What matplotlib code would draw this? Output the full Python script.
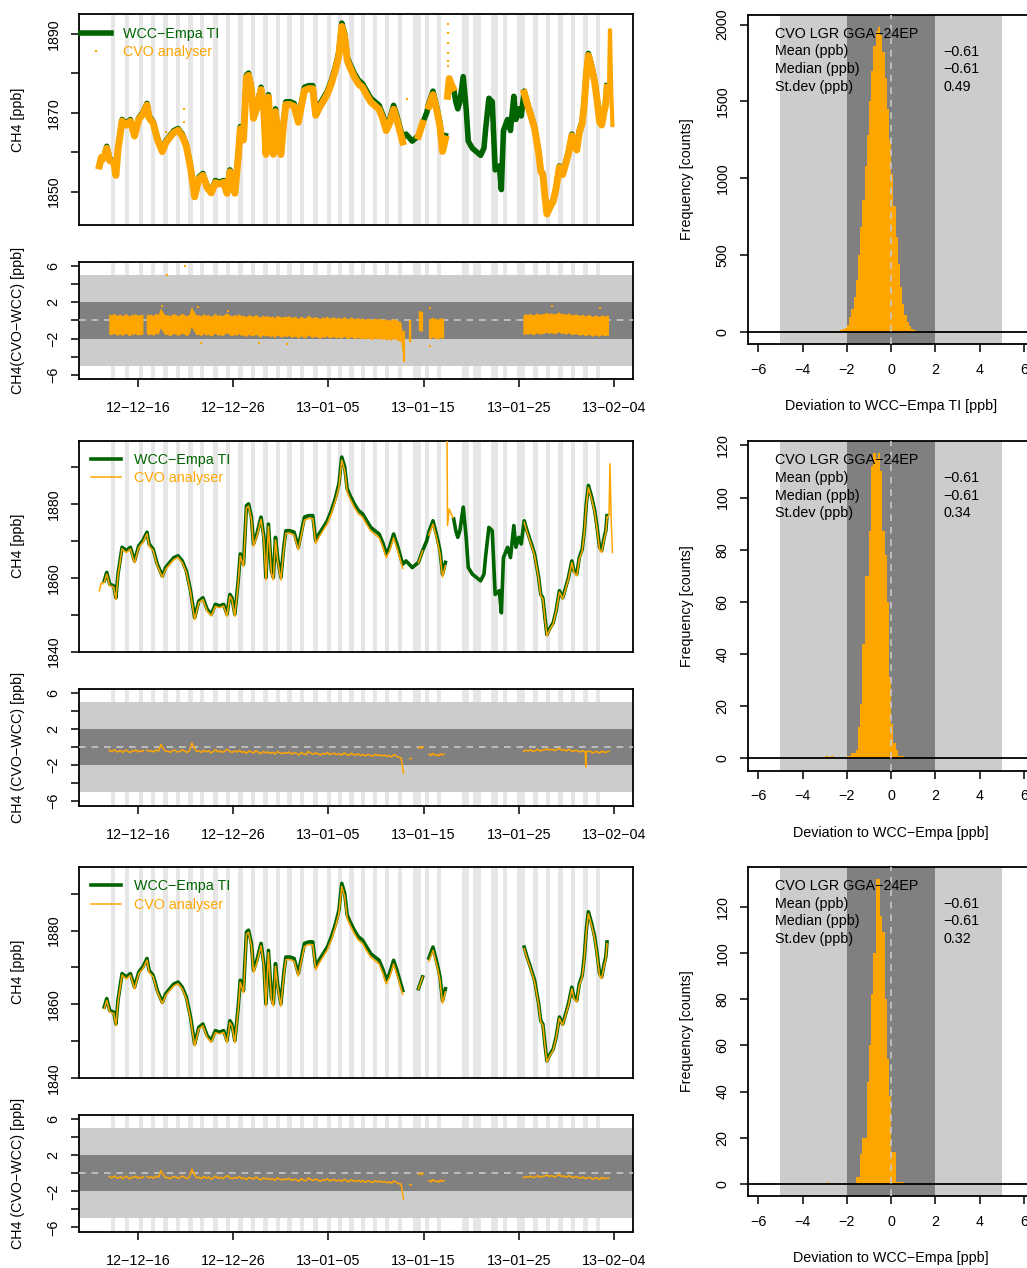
import numpy as np
import matplotlib
matplotlib.use('Agg')
from matplotlib import pyplot as plt
from matplotlib.lines import Line2D

plt.rcParams['font.family'] = ['Liberation Sans', 'DejaVu Sans']
plt.rcParams['font.size'] = 10.3

nan = np.nan
MINUS = '\u2212'
ORANGE = '#FFA500'
GREEN = '#006400'

# ---------------- data (time in days since 2012-12-16) ----------------
# WCC-Empa travelling instrument, hourly CH4 [ppb]
t_wcc = [
    -3.57, -3.31, -3.00, -2.57, -2.35, -2.13, -1.70, -1.26, -0.82, -0.39,
    0.05, 0.48, 0.92, 1.14, 1.57, 2.01, 2.53, 2.88, 3.32, 3.75,
    4.19, 4.63, 5.06, 5.50, 5.93, 6.37, 6.80, 7.24, 7.68, 8.11,
    8.55, 8.98, 9.33, 9.64, 9.85, 10.16, 10.51, 10.73, 11.07, 11.38,
    11.60, 11.90, 12.12, 12.47, 12.91, 13.21, 13.43, 13.69, 14.00, 14.21,
    14.43, 14.65, 15.00, 15.30, 15.52, 15.96, 16.39, 16.83, 17.18, 17.48,
    17.92, 18.35, 18.66, 19.01, 19.44, 19.88, 20.31, 20.75, 21.10, 21.40,
    21.71, 21.97, 22.27, 22.71, 23.15, 23.58, 24.02, 24.45, 24.89, 25.33,
    25.76, 26.07, 26.42, 26.85, 27.20, 27.50, 27.81, 28.16, 28.81, 29.46,
    29.90, 30.34, 30.56, 30.99, 31.43, 31.73, 31.99, 32.30, 32.75, 33.17,
    33.39, 33.60, 33.82, 34.17, 34.48, 34.70, 35.13, 35.57, 36.00, 36.35,
    36.53, 36.87, 37.22, 37.53, 37.96, 38.18, 38.40, 38.83, 39.14, 39.49,
    39.71, 40.01, 40.27, 40.58, 40.88, 41.23, 41.67, 42.10, 42.32, 42.54,
    42.76, 42.97, 43.32, 43.63, 43.93, 44.28, 44.63, 44.94, 45.24, 45.59,
    45.81, 46.11, 46.37, 46.68, 46.90, 47.11, 47.33, 47.68, 47.99, 48.20,
    48.51, 48.73, 48.99, 49.16, 49.29]
wcc = [
    1859.2, 1861.5, 1858.3, 1857.8, 1854.6, 1861.0, 1868.3, 1867.4, 1868.3, 1864.6,
    1868.7, 1870.1, 1872.4, 1869.2, 1867.8, 1863.7, 1860.5, 1862.8, 1864.2, 1865.5,
    1866.0, 1864.6, 1861.9, 1856.5, 1849.2, 1853.7, 1854.6, 1851.5, 1850.1, 1852.8,
    1852.4, 1852.8, 1850.1, 1855.5, 1854.6, 1850.1, 1859.2, 1866.5, 1863.7, 1879.6,
    1880.1, 1876.5, 1869.2, 1871.9, 1876.5, 1871.0, 1860.1, 1874.6, 1861.9, 1860.1,
    1871.0, 1865.5, 1860.1, 1868.3, 1872.8, 1872.8, 1872.4, 1868.3, 1872.8, 1876.5,
    1876.9, 1876.9, 1870.1, 1871.9, 1873.7, 1875.5, 1878.3, 1881.9, 1885.5, 1892.8,
    1890.1, 1884.2, 1882.4, 1880.1, 1878.3, 1877.4, 1875.5, 1873.7, 1872.8, 1871.9,
    1869.2, 1866.5, 1868.3, 1871.9, 1869.2, 1866.5, 1863.7, 1864.6, 1862.8, 1864.2,
    1867.4, 1870.1, 1872.5, 1875.5, 1871.0, 1867.4, 1861.0, 1864.2, nan, 1876.0,
    1872.8, 1871.0, 1872.8, 1879.2, 1871.0, 1862.8, 1861.0, 1860.1, 1859.2, 1861.0,
    1866.0, 1873.7, 1872.8, 1855.5, 1856.5, 1850.5, 1865.5, 1868.3, 1865.5, 1874.2,
    1868.3, 1871.0, 1869.2, 1875.5, 1872.8, 1870.1, 1866.5, 1860.1, 1855.5, 1854.6,
    1849.2, 1844.6, 1846.5, 1847.8, 1851.0, 1856.5, 1854.6, 1857.4, 1860.1, 1864.6,
    1861.9, 1861.0, 1865.5, 1867.8, 1872.8, 1880.1, 1885.1, 1881.9, 1878.3, 1874.6,
    1868.3, 1867.4, 1871.0, 1872.8, 1876.9]
# CVO analyser minus WCC at the same hours (nan = CVO missing)
cvo_off = [
    -0.4, -0.5, -0.45, -0.35, -0.5, -0.45, -0.4, -0.55, -0.45, -0.5,
    -0.4, -0.5, -0.45, -0.5, -0.4, -0.45, -0.35, -0.5, -0.45, -0.5,
    -0.45, -0.5, -0.4, -0.5, -0.55, -0.45, -0.5, -0.5, -0.45, -0.55,
    -0.5, -0.45, -0.55, -0.5, -0.5, -0.55, -0.6, -0.55, -0.6, -0.6,
    -0.6, -0.65, -0.6, -0.65, -0.6, -0.7, -0.65, -0.6, -0.7, -0.65,
    -0.7, -0.65, -0.7, -0.75, -0.7, -0.7, -0.75, -0.7, -0.75, -0.8,
    -0.75, -0.8, -0.75, -0.8, -0.8, -0.75, -0.85, -0.8, -0.85, -0.85,
    -0.9, -0.85, -0.9, -0.9, -0.95, -0.9, -1.0, -0.95, -1.0, -1.0,
    -1.05, -1.0, -1.05, -1.0, -1.1, -1.05, -1.1, nan, nan, -0.1,
    -0.05, nan, -0.85, -0.9, -0.85, -0.9, -0.8, -0.85, nan, nan,
    nan, nan, nan, nan, nan, nan, nan, nan, nan, nan,
    nan, nan, nan, nan, nan, nan, nan, nan, nan, nan,
    nan, nan, nan, -0.45, -0.4, -0.35, -0.45, -0.3, -0.35, -0.3,
    -0.25, -0.3, -0.35, -0.3, -0.25, -0.35, -0.3, -0.4, -0.35, -0.45,
    -0.4, -0.45, -0.5, -0.45, -0.55, -0.5, -0.55, -0.6, -0.5, -0.55,
    -0.6, -0.5, -0.55, -0.6, -0.5]

# CVO-only stretches
cvo_pre_t = [-4.09, -3.87, -3.70]
cvo_pre = [1856.5, 1858.7, 1858.4]
cvo_jump_t = [32.45, 32.52, 32.70, 32.90, 33.10]
cvo_jump = [1905.0, 1874.2, 1878.7, 1877.4, 1876.3]
cvo_end_t = [49.29, 49.50, 49.60, 49.73, 49.86]
cvo_end = [1876.4, 1877.0, 1891.0, 1875.5, 1866.9]

# single raw CVO points in the top panel
raw_dot_t = [2.9, 4.85, 4.85, 28.3, 32.6, 32.6, 32.6, 32.6, 32.6, 32.6]
raw_dot = [1865.2, 1871.0, 1867.6, 1873.5, 1892.6, 1890.3, 1887.7, 1885.2, 1883.1, 1881.8]

# CVO - WCC deviations, hourly, in segments (start day, step, values)
dev_a = [-0.35, -0.5, -0.42, -0.3, -0.55, -0.48, -0.38, -0.6, -0.45, -0.32,
         -0.5, -0.62, -0.4, -0.47, -0.3, -0.55, -0.44, -0.5, -0.38]
dev_b = [-0.35, -0.5, -0.4, -0.55, -0.3, -0.45, 0.3, -0.2, -0.5, -0.45,
         -0.6, -0.4, -0.35, -0.55, -0.5, -0.3, -0.45, -0.6, -0.4, 0.45,
         -0.1, -0.5, -0.45, -0.6, -0.35, -0.55, -0.4, -0.65, -0.5, -0.3,
         -0.55, -0.45, -0.6, -0.4, -0.25, -0.5, -0.6, -0.45, -0.55, -0.35,
         -0.6, -0.5, -0.7, -0.45, -0.55, -0.65, -0.4, -0.6, -0.75, -0.5,
         -0.65, -0.55, -0.7, -0.6, -0.8, -0.5, -0.65, -0.75, -0.6, -0.7,
         -0.55, -0.8, -0.65, -0.7, -0.9, -0.6, -0.75, -0.85, -0.5, -0.7,
         -0.8, -0.65, -0.75, -0.9, -0.7, -0.8, -0.6, -0.85, -0.75, -0.7,
         -0.85, -0.75, -0.9, -0.65, -0.8, -0.95, -0.7, -0.85, -0.9, -0.75,
         -0.95, -0.8, -1.0, -0.85, -0.9, -1.05, -0.8, -0.95, -0.85, -1.0,
         -0.9, -1.05, -0.95, -1.1, -0.85, -1.0, -1.15, -1.2, -2.9]
dev_c = [-1.3, -1.25]
dev_d = [-0.1, 0.05, -0.15, 0.0]
dev_e = [-0.8, -0.95, -0.7, -0.9, -0.85, -1.0, -0.75, -0.9, -0.8]
dev_f = [-0.5, -0.35, -0.45, -0.3, -0.5, -0.4, -0.25, -0.45, -0.35, -0.3,
         -0.2, -0.35, -0.25, -0.4, -0.3, -0.15, -0.35, -0.3, -0.45, -0.25,
         -0.4, -0.5, -0.35, -0.45, -0.55, -0.4, -0.6, -0.5, -0.45, -0.65,
         -0.55, -0.5, -0.7, -0.45, -0.6, -0.55, -0.5]
dev_start = [-3.05, 0.89, 28.55, 29.50, 30.56, 40.50]
dev_step = [0.2, 0.25, 0.15, 0.15, 0.2, 0.25]

# raw (minute) outliers in the top deviation panel
raw_out_t = [3.0, 4.96, 2.55, 6.28, 6.6, 9.49, 12.7, 15.6, 30.7, 30.7, 43.5, 48.6]
raw_out = [5.07, 6.0, 1.6, 1.55, -2.5, 1.05, -2.5, -2.55, 1.35, -2.85, 1.6, 1.35]
streak_t = [27.9, 28.6]
streak_lo = [-4.6, -2.4]
streak_hi = [-1.2, 0.0]
spike2_t = [47.0, 47.05, 47.1]
spike2 = [-0.5, -2.2, -0.6]

# periods shaded in light grey
stripe_start = [-2.86, -1.40, 0.05, 1.35, 2.64, 3.94, 5.27, 6.50, 7.90, 9.20,
                10.53, 11.83, 13.15, 14.46, 15.68, 17.01, 18.42, 19.82, 21.0, 22.2,
                23.4, 24.66, 25.95, 27.29, 28.93, 30.16, 31.39, 34.02, 35.24, 37.10,
                38.39, 39.86, 41.55, 42.88, 44.18, 45.48, 46.80, 48.11]
stripe_width = [0.45, 0.45, 0.45, 0.45, 0.45, 0.45, 0.45, 0.45, 0.45, 0.45,
                0.45, 0.45, 0.45, 0.45, 0.45, 0.45, 0.45, 0.45, 0.45, 0.45,
                0.45, 0.45, 0.45, 0.45, 0.75, 0.45, 0.45, 0.8, 0.77, 0.77,
                0.35, 0.8, 0.45, 0.45, 0.45, 0.45, 0.45, 0.45]

date_ticks = [0, 10, 20, 30, 40, 50]
date_labels = ['12-12-16', '12-12-26', '13-01-05', '13-01-15', '13-01-25', '13-02-04']

# histograms of deviations (bin width 0.1 ppb)
h1_lo = -3.0
h1 = [3, 3, 4, 4, 5, 7, 9, 12, 18, 28,
      48, 95, 150, 230, 340, 500, 680, 860, 1080, 1280,
      1500, 1700, 1860, 1960, 1985, 1930, 1820, 1650, 1450, 1250,
      1030, 820, 620, 440, 290, 180, 110, 65, 38, 22,
      14, 9, 7, 5, 4, 3, 2, 2]
h2_lo = -3.0
h2 = [1, 1, 0, 1, 0, 0, 0, 0, 0, 0,
      1, 1, 2, 2, 3, 12, 21, 44, 70, 70,
      87, 112, 117, 115, 117, 110, 87, 78, 60, 31,
      13, 6, 3, 1, 1, 1]
h3_lo = -3.0
h3 = [0, 1, 0, 0, 0, 0, 0, 0, 0, 0,
      0, 0, 0, 0, 3, 3, 13, 20, 20, 44,
      60, 82, 100, 132, 132, 116, 109, 80, 54, 38,
      14, 14, 1, 1, 1, 1]

stats_sd = ['0.49', '0.34', '0.32']
hist_xlabel = ['Deviation to WCC-Empa TI [ppb]', 'Deviation to WCC-Empa [ppb]',
               'Deviation to WCC-Empa [ppb]']
dev_ylabel = ['CH4(CVO-WCC) [ppb]', 'CH4 (CVO-WCC) [ppb]', 'CH4 (CVO-WCC) [ppb]']

# ---------------- figure ----------------
W, H = 1027, 1268
fig = plt.figure(figsize=(W / 100, H / 100), dpi=100)


def add_ax(left, top, w, h):
    return fig.add_axes([left / W, 1 - (top + h) / H, w / W, h / H])


def m(s):
    return s.replace('-', MINUS)


def style(ax, ypad=7):
    for sp in ax.spines.values():
        sp.set_linewidth(1.3)
    ax.tick_params(direction='out', length=6, width=1.1, labelsize=10.3)
    ax.tick_params(axis='y', labelrotation=90, pad=ypad)
    for lb in ax.get_yticklabels():
        lb.set_va('center')


t = np.array(t_wcc)
y_wcc = np.array(wcc)
off = np.array(cvo_off)
y_cvo = y_wcc + off
y_wcc_both = np.where(np.isnan(off), nan, y_wcc)
dev_vals = [dev_a, dev_b, dev_c, dev_d, dev_e, dev_f]
dev_t = [s + st * np.arange(len(v)) for s, st, v in zip(dev_start, dev_step, dev_vals)]

XLIM = (-6.27, 52.0)
ts_left, ts_w, ts_h = 78.6, 554.2, 211
dev_h = 117
hist_left, hist_w, hist_h = 747.7, 287, 329.5
ts_top = [14.0, 440.5, 866.8]
hist_top = [14.7, 441.0, 866.7]
hists = [(h1_lo, h1), (h2_lo, h2), (h3_lo, h3)]
SPREAD_UP, SPREAD_DN = 1.05, 1.15   # visual scatter of the raw minute data

for r in range(3):
    # ---- time series ----
    ax = add_ax(ts_left, ts_top[r], ts_w, ts_h)
    for s, w in zip(stripe_start, stripe_width):
        ax.axvspan(s, s + w, color='#E6E6E6', lw=0, zorder=0)
    if r == 0:
        ax.plot(t, y_wcc, color=GREEN, lw=4, zorder=3)
        ax.plot(t, y_cvo, color=ORANGE, lw=5, zorder=4)
        ax.plot(cvo_pre_t, cvo_pre, color=ORANGE, lw=5, zorder=4)
        ax.plot(cvo_jump_t[1:], cvo_jump[1:], color=ORANGE, lw=5, zorder=4)
        ax.plot(cvo_end_t, cvo_end, color=ORANGE, lw=3, zorder=4)
        ax.plot(raw_dot_t, raw_dot, 's', color=ORANGE, ms=2.1, mew=0, zorder=4)
        ax.set_ylim(1841.5, 1895.1)
        ax.set_yticks([1850, 1860, 1870, 1880, 1890])
        ax.set_yticklabels(['1850', '', '1870', '', '1890'])
        handles = [Line2D([], [], color=GREEN, lw=4),
                   Line2D([], [], color=ORANGE, marker='s', ms=2.1, mew=0, ls='none')]
        anchor = (0.004, 0.94)
    else:
        gy = y_wcc if r == 1 else y_wcc_both
        ax.plot(t, gy, color=GREEN, lw=2.6, zorder=3)
        ax.plot(t, y_cvo, color=ORANGE, lw=1.1, zorder=4)
        if r == 1:
            ax.plot(cvo_pre_t, cvo_pre, color=ORANGE, lw=1.1, zorder=4)
            ax.plot(cvo_jump_t, cvo_jump, color=ORANGE, lw=1.1, zorder=4)
            ax.plot(cvo_end_t, cvo_end, color=ORANGE, lw=1.1, zorder=4)
        ax.set_ylim(1840, 1897.3)
        ax.set_yticks([1840, 1850, 1860, 1870, 1880, 1890])
        ax.set_yticklabels(['1840', '', '1860', '', '1880', ''])
        handles = [Line2D([], [], color=GREEN, lw=2.6),
                   Line2D([], [], color=ORANGE, lw=1.1)]
        anchor = (0.023, 0.94)
    ax.set_xlim(*XLIM)
    ax.set_xticks([])
    style(ax)
    ax.legend(handles, [m('WCC-Empa TI'), 'CVO analyser'], loc='upper left',
              bbox_to_anchor=anchor, frameon=False, handlelength=2.1,
              handletextpad=0.85, labelspacing=0.3, borderpad=0, borderaxespad=0,
              labelcolor=[GREEN, ORANGE], fontsize=10.3)
    fig.text(18 / W, 1 - (ts_top[r] + ts_h / 2) / H, 'CH4 [ppb]', rotation=90,
             ha='center', va='center', fontsize=10.3)

    # ---- deviation ----
    dtop = ts_top[r] + 248
    ax = add_ax(ts_left, dtop, ts_w, dev_h)
    for s, w in zip(stripe_start, stripe_width):
        ax.axvspan(s, s + w, color='#E6E6E6', lw=0, zorder=0)
    ax.axhspan(-5, 5, color='#CCCCCC', lw=0, zorder=1)
    ax.axhspan(-2, 2, color='#808080', lw=0, zorder=2)
    ax.axhline(0, color='#C8C8C8', lw=1.2, ls=(0, (4, 3.5)), zorder=3)
    for tt, vv in zip(dev_t, dev_vals):
        if r == 0:
            vv = np.array(vv)
            ax.fill_between(tt, vv - SPREAD_DN, vv + SPREAD_UP, facecolor=ORANGE,
                            lw=0, zorder=4)
        else:
            ax.plot(tt, vv, color=ORANGE, lw=1.1, zorder=4)
    if r == 0:
        ax.plot(raw_out_t, raw_out, 's', color=ORANGE, ms=2.1, mew=0, zorder=4)
        ax.vlines(streak_t, streak_lo, streak_hi, color=ORANGE, lw=1.6, zorder=4)
    if r == 1:
        ax.plot(spike2_t, spike2, color=ORANGE, lw=1.1, zorder=4)
    ax.set_xlim(*XLIM)
    ax.set_ylim(-6.48, 6.48)
    ax.set_yticks([-6, -4, -2, 0, 2, 4, 6])
    ax.set_yticklabels([m('-6'), '', m('-2'), '', '2', '', '6'])
    ax.set_xticks(date_ticks)
    ax.set_xticklabels([m(d) for d in date_labels])
    style(ax)
    ax.tick_params(axis='x', pad=10)
    fig.text(18 / W, 1 - (dtop + dev_h / 2) / H, m(dev_ylabel[r]), rotation=90,
             ha='center', va='center', fontsize=10.3)

    # ---- histogram ----
    lo, counts = hists[r]
    edges = lo + 0.1 * np.arange(len(counts))
    ax = add_ax(hist_left, hist_top[r], hist_w, hist_h)
    ax.axvspan(-5, 5, color='#CCCCCC', lw=0, zorder=0)
    ax.axvspan(-2, 2, color='#808080', lw=0, zorder=1)
    ax.bar(edges, counts, width=0.1, align='edge', color=ORANGE, lw=0, zorder=2)
    ax.axhline(0, color='black', lw=1.3, zorder=3)
    ax.axvline(0, color='#C8C8C8', lw=1.2, ls=(0, (4, 3.5)), zorder=3)
    cmax = max(counts)
    ax.set_ylim(-0.04 * cmax, 1.04 * cmax)
    ax.set_xlim(-6.48, 6.48)
    ax.set_xticks([-6, -4, -2, 0, 2, 4, 6])
    ax.set_xticklabels([m(str(v)) for v in [-6, -4, -2, 0, 2, 4, 6]])
    if r == 0:
        yt = [0, 500, 1000, 1500, 2000]
    else:
        yt = [0, 20, 40, 60, 80, 100, 120]
    ax.set_yticks(yt)
    ax.set_yticklabels([str(v) for v in yt])
    style(ax)
    ax.tick_params(axis='x', pad=7.5)
    rows = [m('CVO LGR GGA-24EP'), 'Mean (ppb)', 'Median (ppb)', 'St.dev (ppb)']
    vals = ['', m('-0.61'), m('-0.61'), stats_sd[r]]
    for i in range(4):
        yf = 1 - (19 + 17.8 * i) / hist_h
        ax.text(-5.25, yf, rows[i], transform=ax.get_xaxis_transform(),
                ha='left', va='center', fontsize=10.3, zorder=5)
        ax.text(2.35, yf, vals[i], transform=ax.get_xaxis_transform(),
                ha='left', va='center', fontsize=10.3, zorder=5)
    fig.text(686.7 / W, 1 - (hist_top[r] + hist_h / 2) / H, 'Frequency [counts]',
             rotation=90, ha='center', va='center', fontsize=10.3)
    fig.text(891.2 / W, 1 - (hist_top[r] + hist_h + 62) / H, m(hist_xlabel[r]),
             ha='center', va='center', fontsize=10.3)

fig.savefig('out.png', dpi=100)
